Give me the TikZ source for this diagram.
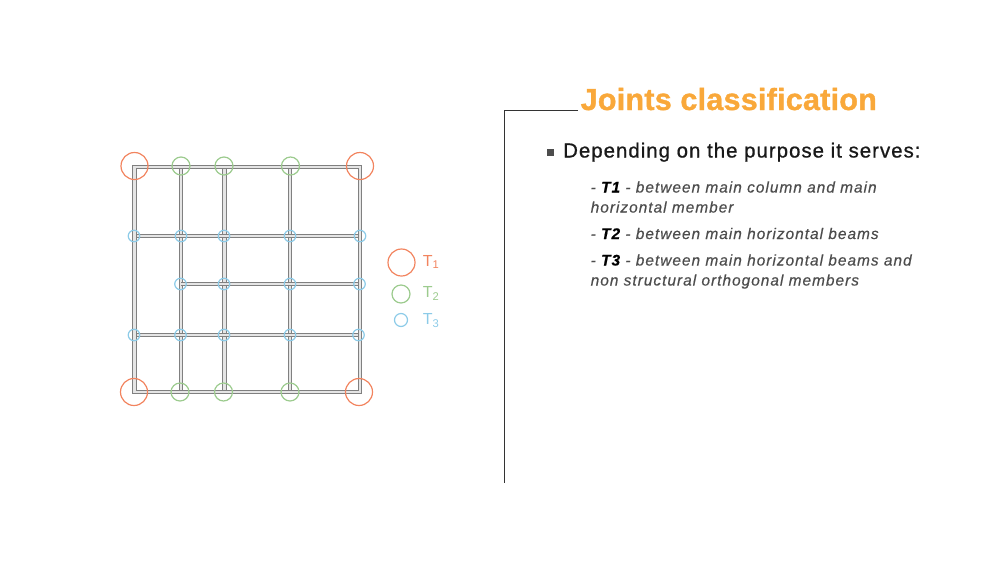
\documentclass[tikz,border=0pt]{standalone}
\usepackage{fontspec}
\setmainfont{Liberation Sans}
\newfontfamily\titlefont[LetterSpace=0.8,BoldFeatures={FakeBold=1.2}]{Liberation Sans}
\newfontfamily\headingfont[LetterSpace=5.0,FakeBold=0.8]{Liberation Sans}
\newfontfamily\bodyfont[LetterSpace=6.6,ItalicFeatures={FakeBold=0.5},BoldItalicFeatures={FakeBold=0.5}]{Liberation Sans}
\usepackage{xcolor}
\definecolor{TitleOrange}{HTML}{F9A83A}
\definecolor{JointRed}{HTML}{F2845F}
\definecolor{JointGreen}{HTML}{9CCB8E}
\definecolor{JointBlue}{HTML}{8CCBE8}
\definecolor{BodyGray}{HTML}{4D4D4D}
\tikzset{
    member/.style={draw=black!50, line width=1.1pt, double=black!10, double distance=2.2pt},
    joint/.style={circle, draw, line width=1.2pt, inner sep=0pt, fill=none},
    bodytext/.style={anchor=base west, inner sep=0pt, font=\bodyfont\fontsize{15.4}{18}\selectfont\itshape, text=BodyGray},
    legendtext/.style={font=\fontsize{16}{16}\selectfont},
}
\begin{document}
\begin{tikzpicture}[x=1pt, y=-1pt]
    \useasboundingbox (0,0) rectangle (1000,563);

    % Structure
    \foreach \x in {181, 224.5, 290}
        \draw [member] (\x,167) -- (\x,392);
    \foreach \y in {236, 335}
        \draw [member] (134.5,\y) -- (360,\y);
    \draw [member] (181,284) -- (360,284);
    \draw [member] (134.5,167) rectangle (360,392);

    % T1
    \foreach \name/\x/\y in {a/134.5/166, b/360/166, c/134/392, d/359/392}
        \node (t1\name) at (\x,\y) [joint, draw=JointRed, minimum size=27pt] {};

    % T2
    \foreach \name/\x/\y in {a/181/166, b/224/166, c/290.5/166, d/180/392, e/223.5/392, f/290/392}
        \node (t2\name) at (\x,\y) [joint, draw=JointGreen, minimum size=18pt] {};

    % T3
    \foreach \name/\x/\y in {a/134/236, b/181/236, c/224/236, d/290/236, e/360/236,
                             f/180.5/284, g/224/284, h/290/284, i/359.5/284,
                             j/134/335, k/180.5/335, l/224/335, m/290/335, n/358.5/335}
        \node (t3\name) at (\x,\y) [joint, draw=JointBlue, minimum size=11.5pt] {};

    % Legend
    \node (legendredjoint) at (401.5,262.5) [joint, draw=JointRed, minimum size=27pt] {};
    \node (legendgreenjoint) at (401,294) [joint, draw=JointGreen, minimum size=18pt] {};
    \node (legendbluejoint) at (401,320) [joint, draw=JointBlue, minimum size=13pt] {};
    \node (legendred) at (431,262) [text=JointRed, legendtext] {T\textsubscript{1}};
    \node (legendgreen) at (431,293.5) [text=JointGreen, legendtext] {T\textsubscript{2}};
    \node (legendblue) at (431,320.5) [text=JointBlue, legendtext] {T\textsubscript{3}};

    % Frame and title
    \node (title) at (580.5,110) [anchor=base west, inner sep=0pt, text=TitleOrange,
        font=\titlefont\fontsize{30.5}{32}\selectfont\bfseries] {Joints classification};
    \coordinate (framestart) at (578,110.5);
    \coordinate (framecorner) at (504.5,110.5);
    \coordinate (frameend) at (504.5,483);
    \draw [line width=1.3pt, color=black!80] (framestart) -- (framecorner) -- (frameend);

    % Text
    \fill [BodyGray] (547,148.5) rectangle (554,156);
    \node (heading) at (563,157.5) [anchor=base west, inner sep=0pt, text=black!90,
        font=\headingfont\fontsize{20.4}{24}\selectfont] {Depending on the purpose it serves:};
    \node (lineone) at (590.5,192.5) [bodytext] {- \textcolor{black}{\textbf{T1}} - between main column and main};
    \node (linetwo) at (590.5,212.5) [bodytext] {horizontal member};
    \node (linethree) at (590.5,239) [bodytext] {- \textcolor{black}{\textbf{T2}} - between main horizontal beams};
    \node (linefour) at (590.5,265.5) [bodytext] {- \textcolor{black}{\textbf{T3}} - between main horizontal beams and};
    \node (linefive) at (590.5,285.5) [bodytext] {non structural orthogonal members};
\end{tikzpicture}
\end{document}
